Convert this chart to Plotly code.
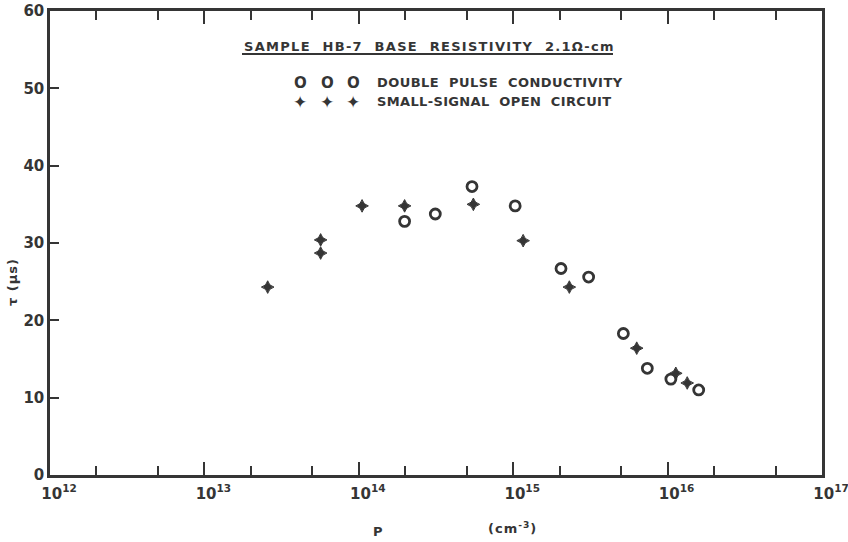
import plotly.graph_objects as go

# ---- data ----
circle_p = [1.98e14, 3.13e14, 5.41e14, 1.03e15, 2.04e15, 3.08e15, 5.17e15, 7.39e15, 1.05e16, 1.59e16]
circle_tau = [32.8, 33.75, 37.3, 34.8, 26.7, 25.6, 18.3, 13.8, 12.4, 11.0]
plus_p = [2.57e13, 5.66e13, 5.66e13, 1.05e14, 1.98e14, 5.52e14, 1.16e15, 2.31e15, 6.31e15, 1.13e16, 1.34e16]
plus_tau = [24.3, 30.4, 28.7, 34.8, 34.8, 35.0, 30.3, 24.3, 16.4, 13.15, 11.9]

x_major = [1e12, 1e13, 1e14, 1e15, 1e16, 1e17]
x_major_text = ["10<sup>12</sup>", "10<sup>13</sup>", "10<sup>14</sup>", "10<sup>15</sup>",
                "10<sup>16</sup>", "10<sup>17</sup>"]
x_minor = [m * 10 ** e for e in range(12, 17) for m in (2, 5)]
y_ticks = [0, 10, 20, 30, 40, 50, 60]

title_text = "SAMPLE  HB-7  BASE  RESISTIVITY  2.1Ω-cm"
legend1 = "DOUBLE  PULSE  CONDUCTIVITY"
legend2 = "SMALL-SIGNAL  OPEN  CIRCUIT"

INK = "#353535"
FONT = "DejaVu Sans"

W, H = 848, 542
L, R, T, B = 50, 26, 11, 67
PW, PH = W - L - R, H - T - B

fig = go.Figure()
fig.add_trace(go.Scatter(
    x=circle_p, y=circle_tau, mode="markers",
    marker=dict(symbol="circle-open", size=10, color=INK, line=dict(width=2.8, color=INK)),
    showlegend=False))
fig.add_trace(go.Scatter(
    x=plus_p, y=plus_tau, mode="markers",
    marker=dict(symbol="star-diamond", size=9, color=INK, line=dict(width=1, color=INK)),
    showlegend=False))

def px(xpix):
    return (xpix - L) / PW

def py(ypix):
    return (H - B - ypix) / PH

ann = []
def text(x, y, s, size=12, anchor="left", angle=0, spacing=0):
    if spacing:
        s = f'<span style="letter-spacing:{spacing}px">{s}</span>'
    ann.append(dict(xref="paper", yref="paper", x=px(x), y=py(y), text=s, showarrow=False,
                    xanchor=anchor, yanchor="middle", textangle=angle,
                    font=dict(family=FONT, size=size, color=INK, weight="bold")))

text(242, 46, title_text, size=13, spacing=1.3)
for xm in (300, 327, 353):
    text(xm, 83, "O", size=15, anchor="center")
    text(xm, 102, "✦", size=17, anchor="center")
text(375, 83, legend1, size=13, spacing=0.45)
text(375, 102, legend2, size=13, spacing=0.35)
text(378, 531, "P", size=13, anchor="center")
text(512, 528, "(cm<sup>-3</sup>)", size=13, anchor="center", spacing=1)
text(12, 282, "τ (μs)", size=13, anchor="center", angle=-90, spacing=1)

fig.update_layout(
    width=W, height=H,
    margin=dict(l=L, r=R, t=T, b=B, autoexpand=False),
    paper_bgcolor="white", plot_bgcolor="white",
    annotations=ann,
    shapes=[dict(type="line", xref="paper", yref="paper", x0=px(242), x1=px(613),
                 y0=py(54), y1=py(54), line=dict(color=INK, width=2))],
    font=dict(family=FONT, color=INK),
)
fig.update_xaxes(
    type="log", range=[12, 17], showgrid=False, zeroline=False, automargin=False,
    showline=True, linecolor=INK, linewidth=2.5, mirror="ticks",
    ticks="inside", ticklen=13, tickwidth=2, tickcolor=INK,
    tickvals=x_major, ticktext=x_major_text,
    ticklabelshift=9, ticklabelstandoff=3, ticklabeloverflow="allow",
    tickfont=dict(family=FONT, size=15, color=INK, weight="bold"),
    minor=dict(tickvals=x_minor, ticks="inside", ticklen=9, tickwidth=2, tickcolor=INK, showgrid=False),
)
fig.update_yaxes(
    range=[0, 60], showgrid=False, zeroline=False, automargin=False,
    showline=True, linecolor=INK, linewidth=2.5, mirror=True,
    ticks="inside", ticklen=9, tickwidth=2, tickcolor=INK,
    tickvals=y_ticks,
    tickfont=dict(family=FONT, size=15, color=INK, weight="bold"),
)

fig.write_html("out.html")
